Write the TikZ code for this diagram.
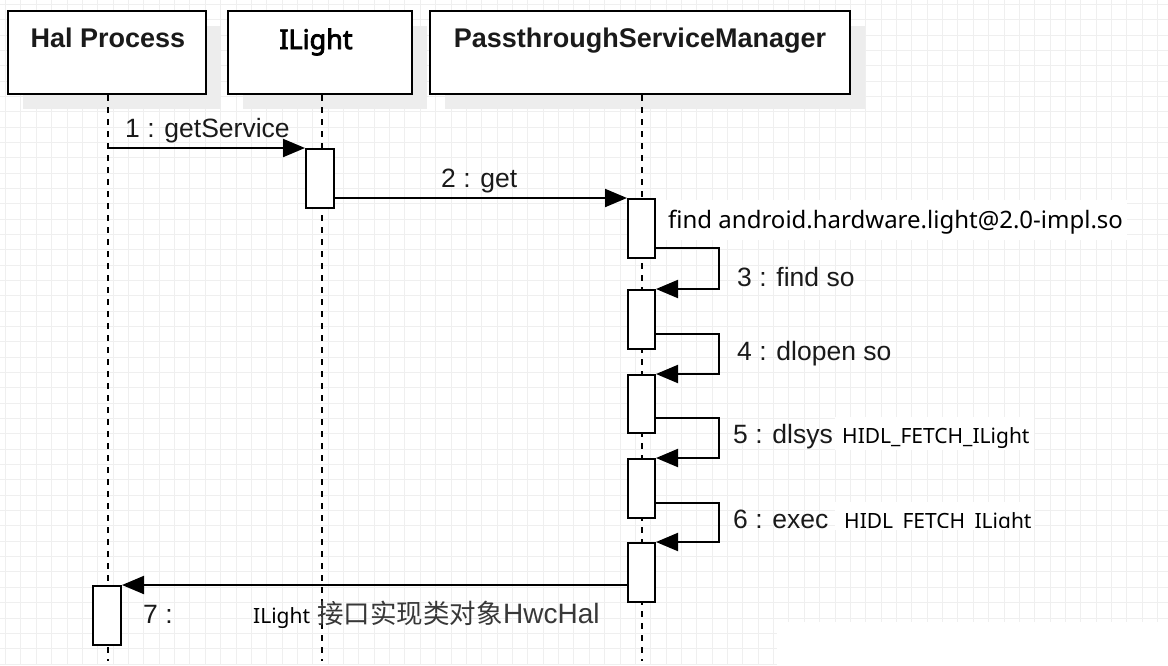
\documentclass[tikz,border=0pt]{standalone}
\usepackage{fontspec}
\setmainfont{Liberation Sans}
\newfontfamily\yahei{Noto Sans}
\newfontfamily\yaheibold{Noto Sans}[FakeBold=3]
\newfontfamily\cjkfont{Noto Sans CJK SC}
\usetikzlibrary{arrows.meta}
\definecolor{gridc}{HTML}{EFEFEF}
\definecolor{shadowc}{HTML}{EDEDED}
\definecolor{textgray}{HTML}{383838}
\definecolor{txt}{HTML}{1A1A1A}
\begin{document}
\begin{tikzpicture}[x=1pt,y=-1pt,
  gridline/.style={draw=gridc,line width=1pt},
  headbox/.style={draw=black,line width=2pt,fill=white,rectangle,inner sep=0pt,minimum height=83pt},
  lifeline/.style={draw=black,line width=2pt,dash pattern=on 6pt off 6pt},
  actbox/.style={draw=black,line width=2pt,fill=white,rectangle,inner sep=0pt,minimum width=27pt,minimum height=59pt},
  msg/.style={draw=black,line width=2pt,-{Triangle[length=22pt,width=18pt]}},
  lbl/.style={anchor=base west,inner sep=0pt,text=txt,font=\fontsize{26.5}{30}\selectfont},
  ylbl/.style={anchor=base west,inner sep=0pt,text=black,font=\yahei\fontsize{24}{28}\selectfont},
  hlbl/.style={anchor=base west,inner sep=0pt,text=black,font=\yahei\fontsize{21}{24}\selectfont},
  title/.style={anchor=base,inner sep=0pt,text=txt,font=\bfseries\fontsize{27}{32}\selectfont},
  patch/.style={fill=white}
]
\useasboundingbox (0,0) rectangle (1168,665);
\fill[white] (0,0) rectangle (1168,665);
% grid
\foreach \i in {0,...,75} { \draw[gridline] (5.6+\i*15.36,0) -- (5.6+\i*15.36,665); }
\foreach \j in {0,...,43} { \draw[gridline] (0,4.4+\j*15.34) -- (1168,4.4+\j*15.34); }
\fill[white] (777,622) rectangle (1168,665);
% shadows
\fill[shadowc] (23,26) rectangle (221,109);
\fill[shadowc] (243,26) rectangle (427,109);
\fill[shadowc] (445,26) rectangle (865,109);
% head boxes
\node[headbox,minimum width=198pt] (halbox) at (107,52.5) {};
\node[headbox,minimum width=184pt] (ilbox) at (320,52.5) {};
\node[headbox,minimum width=420pt] (psmbox) at (640,52.5) {};
\node[title] (t1) at (108,47) {Hal Process};
\node[title,font=\yaheibold\fontsize{27}{32}\selectfont,text=black] (t2) at (316,49) {ILight};
\node[title] (t3) at (640,47) {PassthroughServiceManager};
% lifelines
\coordinate (hall) at ([xshift=1pt]halbox.south);
\coordinate (ill) at ([xshift=2pt]ilbox.south);
\coordinate (psml) at ([xshift=2pt]psmbox.south);
\draw[lifeline] (hall) -- ++(0,566);
\draw[lifeline] (ill) -- ++(0,566);
\draw[lifeline] (psml) -- ++(0,566);
% label background patches
\fill[patch] (655,200) rectangle (1127,240);
\fill[patch] (835,417) rectangle (1034,450);
\fill[patch] (835,502) rectangle (1034,530);
% activations
\node[actbox,minimum width=28pt] (il1) at (320,178.5) {};
\node[actbox] (p1) at (641.5,228.5) {};
\node[actbox] (p2) at (641.5,319.5) {};
\node[actbox,minimum height=58pt] (p3) at (641.5,404) {};
\node[actbox] (p4) at (641.5,488.5) {};
\node[actbox] (p5) at (641.5,572.5) {};
\node[actbox,minimum width=28pt] (hal7) at (107,615.5) {};
% messages
\draw[msg] (hall |- il1.north west) -- (il1.north west);
\draw[msg] (il1.east |- p1.north west) -- (p1.north west);
\draw[msg] ([yshift=11pt]p1.south east) -- ++(63,0) |- (p2.north east);
\draw[msg] ([yshift=16pt]p2.south east) -- ++(63,0) |- (p3.north east);
\draw[msg] ([yshift=16pt]p3.south east) -- ++(63,0) |- (p4.north east);
\draw[msg] ([yshift=16pt]p4.south east) -- ++(63,0) |- (p5.north east);
\draw[msg] (p5.west |- hal7.north east) -- (hal7.north east);
% labels
\node[lbl] (m1) at (125,137) {1 : getService};
\node[lbl] (m2) at (441,187) {2 : get};
\node[ylbl] (f1) at (668,228) {find android.hardware.light@2.0-impl.so};
\node[lbl] (m3) at (737,286) {3 : find so};
\node[lbl] (m4) at (737,360) {4 : dlopen so};
\node[lbl] (m5) at (733,443) {5 : dlsys};
\node[hlbl] (h5) at (842,443) {HIDL\_FETCH\_ILight};
\node[lbl] (m6) at (733,528) {6 : exec};
\begin{scope}
\clip (835,500) rectangle (1040,527.5);
\node[hlbl] (h6) at (844,528) {HIDL\_FETCH\_ILight};
\end{scope}
\node[lbl] (m7) at (143,623) {7 :};
\node[anchor=base west,inner sep=0pt,text=black,font=\yahei\fontsize{21}{24}\selectfont] (r1) at (253,623) {ILight};
\node[anchor=base west,inner sep=0pt,text=textgray,font=\cjkfont\fontsize{26.5}{30}\selectfont] (r2) at (317,623) {接口实现类对象};
\node[anchor=base west,inner sep=0pt,text=textgray,font=\fontsize{28}{30}\selectfont] (r3) at (r2.base east) {HwcHal};
\end{tikzpicture}
\end{document}
